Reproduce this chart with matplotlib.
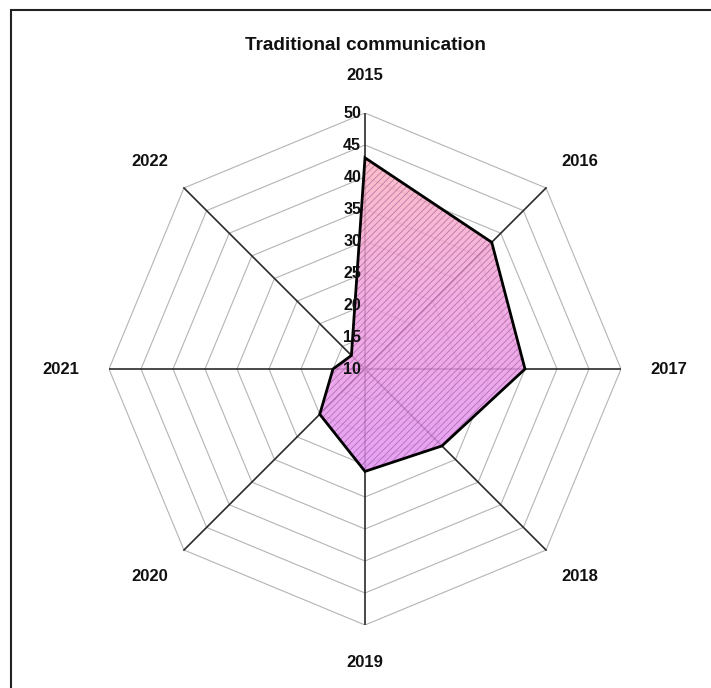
import numpy as np
import matplotlib.pyplot as plt
from matplotlib.patches import Polygon, Rectangle
from matplotlib.colors import LinearSegmentedColormap

plt.rcParams['font.family'] = ['Liberation Sans', 'DejaVu Sans']

# --- Data ---
title = "Traditional communication"
years = ['2015', '2016', '2017', '2018', '2019', '2020', '2021', '2022']
values = [43, 38, 35, 27, 26, 20, 15, 13]
ticks = [10, 15, 20, 25, 30, 35, 40, 45, 50]
r_min, r_max = 10, 50

n = len(years)
theta = np.arange(n) * 2 * np.pi / n  # clockwise from top


def to_xy(r, th):
    r = np.asarray(r, dtype=float) - r_min
    return r * np.sin(th), r * np.cos(th)


fig = plt.figure(figsize=(7.11, 6.88), dpi=100)
ax = fig.add_axes([109 / 711, 63 / 688, 512 / 711, 512 / 688])
span = r_max - r_min
ax.set_xlim(-span, span)
ax.set_ylim(-span, span)
ax.axis('off')

# --- grid rings (octagons) ---
for t in ticks[1:]:
    gx, gy = to_xy([t] * n, theta)
    ax.add_patch(Polygon(np.column_stack([gx, gy]), closed=True, fill=False,
                         edgecolor='#b4b4b4', linewidth=0.8, zorder=1))

# --- spokes ---
for th in theta:
    sx, sy = to_xy([r_min, r_max], th)
    ax.plot(sx, sy, color='#2a2a2a', linewidth=1.2, zorder=2)

# --- data polygon: gradient + hatch + outline ---
px, py = to_xy(values, theta)
pts = np.column_stack([px, py])
clip = Polygon(pts, closed=True, facecolor='none', edgecolor='none')
ax.add_patch(clip)
cmap = LinearSegmentedColormap.from_list('pv', ['#e392f4', '#f09ee0', '#fdb4c0'])
grad = np.linspace(0, 1, 256).reshape(-1, 1)
img = ax.imshow(grad, cmap=cmap, extent=[px.min(), px.max(), py.min(), py.max()],
                origin='lower', aspect='auto', alpha=0.85, zorder=3)
img.set_clip_path(clip)
plt.rcParams['hatch.linewidth'] = 0.6
ax.add_patch(Polygon(pts, closed=True, facecolor='none', edgecolor='#7a3f7a',
                     linewidth=0, hatch='/////', alpha=0.5, zorder=4))
ax.add_patch(Polygon(pts, closed=True, fill=False, edgecolor='black',
                     linewidth=2.0, joinstyle='miter', zorder=5))
ax.set_xlim(-span, span)
ax.set_ylim(-span, span)

# --- radial tick labels ---
for t in ticks:
    ax.text(-0.6, t - r_min, str(t), ha='right', va='center', fontsize=11.5,
            fontweight='bold', color='#111111', zorder=6)

# --- category labels ---
for lab, th in zip(years, theta):
    lx, ly = 47.5 * np.sin(th), 45.8 * np.cos(th)
    ax.text(lx, ly, lab, ha='center', va='center', fontsize=12,
            fontweight='bold', color='#111111', clip_on=False)

fig.text(365 / 711, 1 - 46 / 688, title, ha='center', va='center',
         fontsize=13.6, fontweight='bold', color='#111111')

# outer frame (only top and left edges fall inside the image)
fig.patches.append(Rectangle((11 / 711, -0.5), 2.0, 1.5 - 10 / 688,
                             transform=fig.transFigure, fill=False,
                             edgecolor='#222222', linewidth=1.5))

fig.savefig('out.png', dpi=100)
